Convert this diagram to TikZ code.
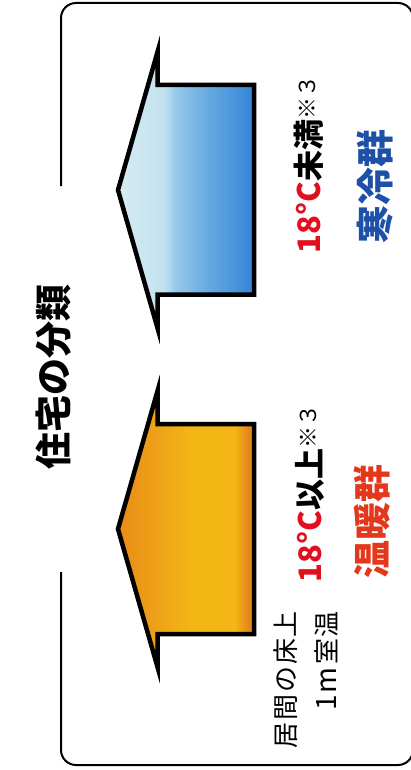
\documentclass[tikz,border=0pt]{standalone}
\usepackage{fontspec}
\setmainfont{Noto Sans CJK JP}
\definecolor{coldA}{HTML}{D6ECF2}
\definecolor{coldB}{HTML}{C2E1EF}
\definecolor{coldC}{HTML}{98C9EA}
\definecolor{coldD}{HTML}{66AAE2}
\definecolor{coldE}{HTML}{3384D6}
\definecolor{warmA}{HTML}{E88C16}
\definecolor{warmB}{HTML}{EEA318}
\definecolor{warmC}{HTML}{F4B614}
\definecolor{warmD}{HTML}{E4861A}
\definecolor{tred}{HTML}{E2101E}
\definecolor{tblue}{HTML}{1E50A8}
\definecolor{tred2}{HTML}{E3381C}
\pgfdeclarehorizontalshading{coldshade}{100bp}{color(0bp)=(coldA); color(25bp)=(coldA); color(42bp)=(coldB); color(46bp)=(coldC); color(58bp)=(coldD); color(75bp)=(coldE); color(100bp)=(coldE)}
\pgfdeclarehorizontalshading{warmshade}{100bp}{color(0bp)=(warmA); color(25bp)=(warmA); color(40bp)=(warmB); color(52bp)=(warmC); color(68bp)=(warmC); color(73bp)=(warmD); color(75bp)=(warmD); color(100bp)=(warmD)}
\tikzset{
  lbl/.style={rotate=90, inner sep=0pt, outer sep=0pt},
  arrowshape/.style={line width=4.5pt, line join=miter, miter limit=12, draw=black},
  frame/.style={line width=2pt, rounded corners=15pt}
}
\newcommand{\notemark}{\raisebox{5pt}{\mdseries\fontsize{22}{22}\selectfont ※３}}
\begin{document}
\begin{tikzpicture}[x=1pt,y=-1pt]
\useasboundingbox (0,0) rectangle (411,770);
% frame
\coordinate (fa) at (61,186);
\coordinate (fb) at (61,572);
\draw[frame] (fa) -- (61,3) -- (413,3) -- (413,765) -- (61,765) -- (fb);
% cold arrow (center 190)
\shadedraw[arrowshape, shading=coldshade] (118,190) -- (157.5,52) -- (157.5,85) -- (254,85) -- (254,294.5) -- (157.5,294.5) -- (157.5,328) -- cycle;
% warm arrow (center 529)
\shadedraw[arrowshape, shading=warmshade] (118,529) -- (157.5,391) -- (157.5,424) -- (254,424) -- (254,634) -- (157.5,634) -- (157.5,667) -- cycle;
% texts
\node[lbl, font=\bfseries\fontsize{37}{40}\selectfont] (title) at (54,377) {住宅の分類};
\node[lbl, anchor=base west, font=\bfseries\fontsize{31}{34}\selectfont] (coldtemp) at (320,253) {\textcolor{tred}{18°C}未満\notemark};
\node[lbl, text=tblue, font=\bfseries\fontsize{38}{40}\selectfont] (coldname) at (375,186) {寒冷群};
\node[lbl, anchor=base west, font=\bfseries\fontsize{31}{34}\selectfont] (warmtemp) at (321,582) {\textcolor{tred}{18°C}以上\notemark};
\node[lbl, text=tred2, font=\bfseries\fontsize{38}{40}\selectfont] (warmname) at (372,521) {温暖群};
\node[lbl, anchor=east, align=right, font=\fontsize{26}{41}\selectfont] (note) at (306,611) {{\addfontfeature{LetterSpace=7}居間の床上}\\{\fontsize{28}{41}\selectfont 1\kern1pt m\kern3pt}{\addfontfeature{LetterSpace=7}室温}};
\end{tikzpicture}
\end{document}
